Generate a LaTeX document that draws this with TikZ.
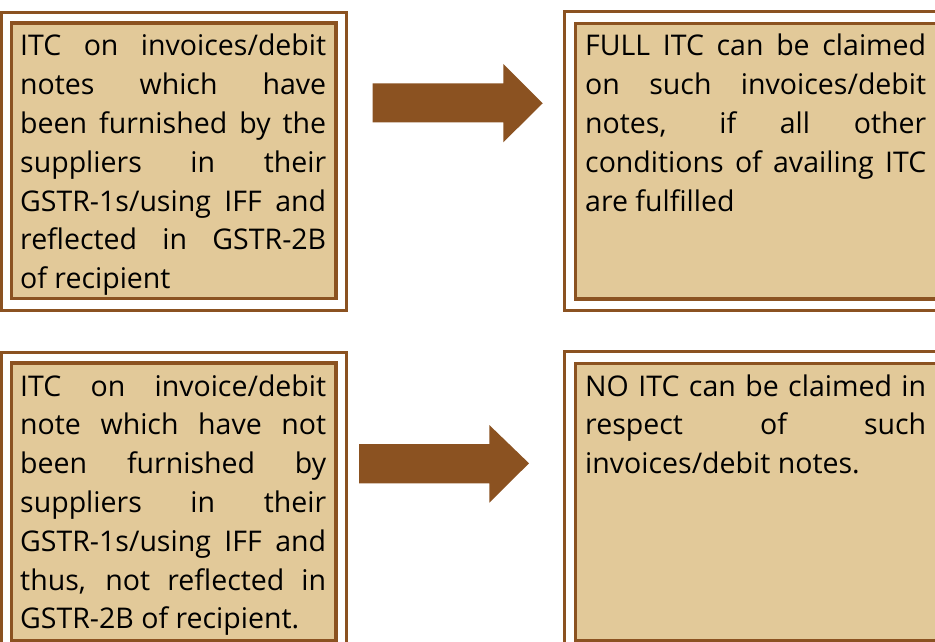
\documentclass[tikz,border=0pt]{standalone}
\usepackage{fontspec}
\setmainfont{Open Sans}
\definecolor{brn}{RGB}{139,82,33}
\definecolor{tanfill}{RGB}{226,201,153}
\tikzset{
  outerbox/.style={draw=brn,line width=3pt},
  innerbox/.style={draw=brn,fill=tanfill,line width=3.4pt},
  blockarrow/.style={fill=brn,draw=none},
  txt/.style={anchor=base west,inner sep=0pt,font=\fontsize{28.5}{38.8}\selectfont}
}
\newcommand{\jl}[2]{\makebox[#1][s]{#2}\\}
\begin{document}
\begin{tikzpicture}[x=1pt,y=-1pt]
\useasboundingbox (0,0) rectangle (935,642);
\clip (0,0) rectangle (935,642);
% boxes
\draw[outerbox] (1.2,12.3) rectangle (346.8,310);
\draw[innerbox] (11.2,23.2) rectangle (335.8,298.7);
\draw[outerbox] (564,11.7) rectangle (948,310);
\draw[innerbox] (575.5,23.5) rectangle (936.2,299);
\draw[outerbox] (1.2,352) rectangle (346.8,652);
\draw[innerbox] (11.2,363) rectangle (335.8,640.5);
\draw[outerbox] (564,351.5) rectangle (948,652);
\draw[innerbox] (575.5,363.5) rectangle (936.2,640.5);
% arrows
\fill[blockarrow] (372.7,83.3) -- (503.3,83.3) -- (503.3,64) -- (542.7,103.3) -- (503.3,142.3) -- (503.3,122.3) -- (372.7,122.3) -- cycle;
\fill[blockarrow] (359,444) -- (489.3,444) -- (489.3,425) -- (529,463.3) -- (489.3,502.7) -- (489.3,483.3) -- (359,483.3) -- cycle;
% texts
\node[txt] (tl) at (20,56) {\parbox[t]{306pt}{%
\jl{306pt}{ITC on invoices/debit}
\jl{306pt}{notes which have}
\jl{306pt}{been furnished by the}
\jl{306pt}{suppliers in their}
\jl{306pt}{GSTR-1s/using IFF and}
\jl{306pt}{reflected in GSTR-2B}
of recipient}};
\node[txt] (tr) at (585,56) {\parbox[t]{341pt}{%
\jl{341pt}{FULL ITC can be claimed}
\jl{341pt}{on such invoices/debit}
\jl{341pt}{notes, if all other}
\jl{341pt}{conditions of availing ITC}
are fulfilled}};
\node[txt] (bl) at (20,396) {\parbox[t]{306pt}{%
\jl{306pt}{ITC on invoice/debit}
\jl{306pt}{note which have not}
\jl{306pt}{been furnished by}
\jl{306pt}{suppliers in their}
\jl{306pt}{GSTR-1s/using IFF and}
\jl{306pt}{thus, not reflected in}
GSTR-2B of recipient.}};
\node[txt] (br) at (585,396) {\parbox[t]{341pt}{%
\jl{341pt}{NO ITC can be claimed in}
\jl{341pt}{respect of such}
invoices/debit notes.}};
\end{tikzpicture}
\end{document}
